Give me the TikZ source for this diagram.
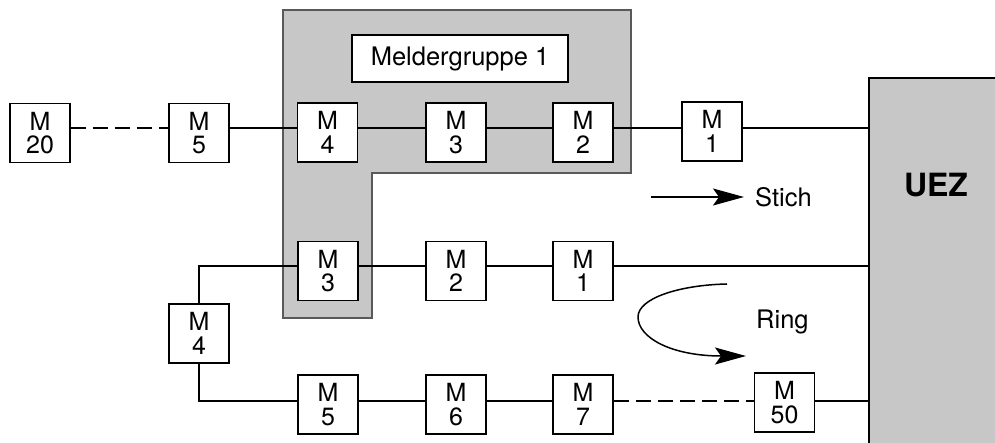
\documentclass[tikz,border=0pt]{standalone}
\usepackage{fontspec}
\setmainfont{TeX Gyre Heros}
\usetikzlibrary{arrows.meta}
\definecolor{zonegray}{gray}{0.78}
\begin{document}
\begin{tikzpicture}[x=1pt,y=-1pt,
  mbox/.style={draw, line width=1.9pt, fill=white, minimum width=60pt, minimum height=59pt,
    inner sep=0pt, align=center, font=\fontsize{25}{23.5}\selectfont},
  wire/.style={line width=1.9pt},
  dwire/.style={line width=1.9pt, dash pattern=on 15pt off 7pt},
  bigarrow/.style={line width=1.5pt, -{Stealth[length=31pt,width=17pt,inset=6pt]}},
  lbl/.style={font=\fontsize{25.5}{28}\selectfont, inner sep=0pt}
]
\useasboundingbox (0,0) rectangle (995,443);

% wire levels of the three rows
\coordinate (rowA) at (0,128);
\coordinate (rowB) at (0,266);
\coordinate (rowC) at (0,401);

% shaded area of detector group 1
\path[fill=zonegray, draw=black!65, line width=1.2pt]
  (283,10) -- (631,10) -- (631,173) -- (372,173) -- (372,318) -- (283,318) -- cycle;
\node[draw, line width=1.6pt, fill=white, minimum width=216pt, minimum height=47pt,
  lbl] (grp) at (460,58.5) {Meldergruppe 1};

% control panel
\node[fill=zonegray, minimum width=126pt, minimum height=365pt, inner sep=0pt,
  anchor=north west] (uez) at (869,78) {};
\draw[line width=2.8pt] (uez.south west) -- (uez.north west) -- (uez.north east);
\node[font=\fontsize{32}{34}\selectfont\bfseries] (uezl) at (936,185) {UEZ};

% branch line (Stich)
\node[mbox] (m20) at (40,133) {M\\20};
\node[mbox] (s5) at (199,133) {M\\5};
\node[mbox] (s4) at (327.5,132.5) {M\\4};
\node[mbox] (s3) at (456,132.5) {M\\3};
\node[mbox] (s2) at (583,132.5) {M\\2};
\node[mbox] (s1) at (712,131.5) {M\\1};

\draw[dwire] (m20.east |- rowA) -- (s5.west |- rowA);
\draw[wire] (s5.east |- rowA) -- (s4.west |- rowA);
\draw[wire] (s4.east |- rowA) -- (s3.west |- rowA);
\draw[wire] (s3.east |- rowA) -- (s2.west |- rowA);
\draw[wire] (s2.east |- rowA) -- (s1.west |- rowA);
\draw[wire] (s1.east |- rowA) -- (uez.west |- rowA);

% ring line
\node[mbox] (r3) at (328,271) {M\\3};
\node[mbox] (r2) at (456,271) {M\\2};
\node[mbox] (r1) at (583,271) {M\\1};
\node[mbox] (r4) at (199,333.5) {M\\4};
\node[mbox] (r5) at (328,404.5) {M\\5};
\node[mbox] (r6) at (456,404.5) {M\\6};
\node[mbox] (r7) at (583,404.5) {M\\7};
\node[mbox] (r50) at (784.5,402.5) {M\\50};

\draw[wire] (r1.east |- rowB) -- (uez.west |- rowB);
\draw[wire] (r1.west |- rowB) -- (r2.east |- rowB);
\draw[wire] (r2.west |- rowB) -- (r3.east |- rowB);
\draw[wire] (r3.west |- rowB) -| (r4.north);
\draw[wire] (r4.south) |- (r5.west |- rowC);
\draw[wire] (r5.east |- rowC) -- (r6.west |- rowC);
\draw[wire] (r6.east |- rowC) -- (r7.west |- rowC);
\draw[dwire] (r7.east |- rowC) -- (r50.west |- rowC);
\draw[wire] (r50.east |- rowC) -- (uez.west |- rowC);

% legend: branch arrow
\coordinate (sa) at (651,197);
\coordinate (sb) at (744,197);
\draw[bigarrow] (sa) -- (sb);
\node[lbl, anchor=west] (stich) at (755,197) {Stich};

% legend: ring arrow
\coordinate (ra) at (727,284);
\coordinate (rb) at (746,356);
\draw[bigarrow] (ra) .. controls (680,285) and (638,298) .. (638,317)
  .. controls (638,338) and (672,356) .. (rb);
\node[lbl, anchor=west] (ring) at (756,322) {Ring};
\end{tikzpicture}
\end{document}
